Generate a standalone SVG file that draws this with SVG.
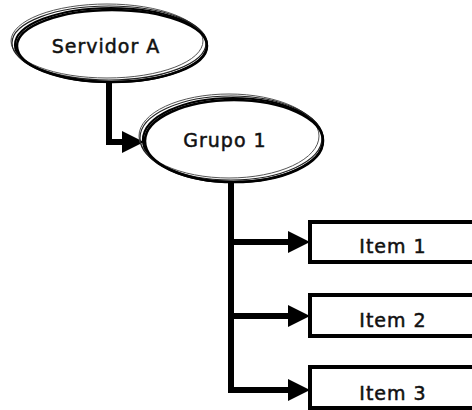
<svg xmlns="http://www.w3.org/2000/svg" width="472" height="410" viewBox="0 0 472 410">
<defs>
<style>
.lbl{font-family:"DejaVu Sans","Liberation Sans",sans-serif;font-size:19px;fill:#111;stroke:#111;stroke-width:0.5;letter-spacing:1px;text-anchor:middle}
.e1{fill:none;stroke:#222;stroke-width:1.2}
.e2{fill:none;stroke:#555;stroke-width:1}
.e3{fill:#fff;stroke:#000;stroke-width:2.2}
.e4{fill:none;stroke:#000;stroke-width:2.5}
.box{fill:#fff;stroke:#000;stroke-width:4}
.conn{fill:none;stroke:#000;stroke-width:6;stroke-linejoin:miter}
</style>
<marker id="arr" markerUnits="userSpaceOnUse" markerWidth="22" markerHeight="22" viewBox="0 0 20 20" refX="0" refY="10" orient="auto">
<path d="M0,0 L20,10 L0,20 Z" fill="#000"/>
</marker>
</defs>
<rect width="472" height="410" fill="#fff"/>
<g id="connectors">
<path class="conn" d="M109,80 V142 H122" marker-end="url(#arr)"/>
<path class="conn" d="M231,180 V392"/>
<path class="conn" d="M228,242 H288" marker-end="url(#arr)"/>
<path class="conn" d="M228,316 H288" marker-end="url(#arr)"/>
<path class="conn" d="M228,390 H288" marker-end="url(#arr)"/>
</g>
<g id="servidor-a">
<ellipse class="e3" cx="111" cy="45" rx="96" ry="37"/>
<ellipse class="e2" cx="107" cy="41" rx="96" ry="37"/>
<ellipse class="e1" cx="109" cy="43" rx="97" ry="37"/>
<ellipse class="e4" cx="112" cy="46" rx="95" ry="36"/>
<text class="lbl" x="106" y="53">Servidor A</text>
</g>
<g id="grupo-1">
<ellipse class="e3" cx="233" cy="140" rx="90" ry="42"/>
<ellipse class="e2" cx="229" cy="136" rx="90" ry="42"/>
<ellipse class="e1" cx="231" cy="138" rx="91" ry="42"/>
<ellipse class="e4" cx="234" cy="141" rx="89" ry="41"/>
<text class="lbl" x="225" y="147">Grupo 1</text>
</g>
<g id="item-1">
<rect class="box" x="310" y="222" width="180" height="40"/>
<text class="lbl" x="393" y="253">Item 1</text>
</g>
<g id="item-2">
<rect class="box" x="310" y="295" width="180" height="41"/>
<text class="lbl" x="393" y="327">Item 2</text>
</g>
<g id="item-3">
<rect class="box" x="310" y="367" width="180" height="41"/>
<text class="lbl" x="393" y="400">Item 3</text>
</g>
</svg>
